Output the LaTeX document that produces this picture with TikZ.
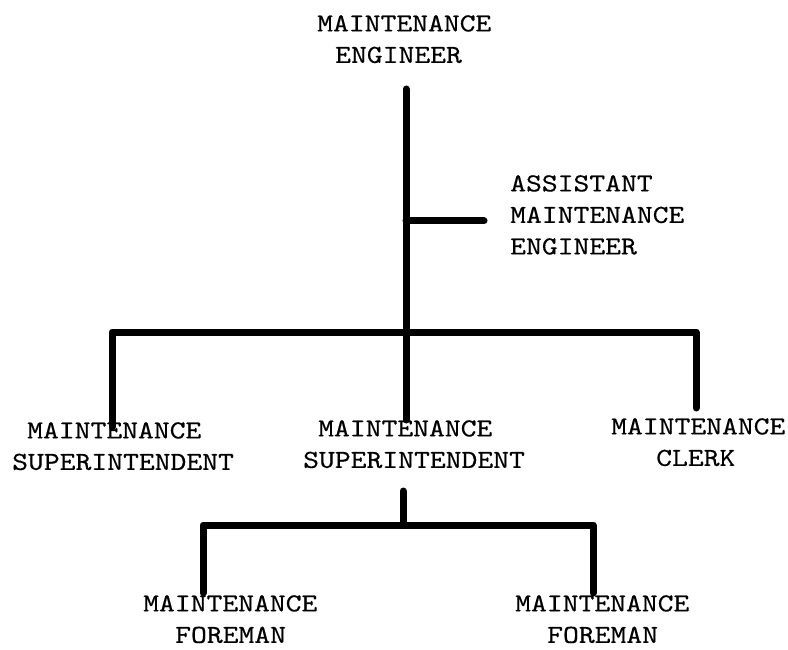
\documentclass[tikz,border=0pt]{standalone}
\usepackage{fontspec}
% typewriter face, widened a little to a typewriter pitch
\newfontfamily\typewriter{lmmono10-regular.otf}[FakeStretch=1.16,FakeBold=0.4]
\begin{document}
\begin{tikzpicture}[x=1pt,y=-1pt,
  title/.style={anchor=north west,inner sep=0pt,align=left,
    font=\typewriter\fontsize{26}{31.5}\selectfont},
  link/.style={line width=7pt,line cap=round,line join=round}]
\useasboundingbox[fill=white] (0,0) rectangle (788,650);

% position titles
\node[title] (eng)   at (317,15)  {MAINTENANCE\\\hspace*{18pt}ENGINEER};
\node[title] (asst)  at (510,175) {ASSISTANT\\MAINTENANCE\\ENGINEER};
\node[title] (supL)  at (12,422)  {\hspace*{15pt}MAINTENANCE\\SUPERINTENDENT};
\node[title] (supM)  at (303,420) {\hspace*{15pt}MAINTENANCE\\SUPERINTENDENT};
\node[title] (clerk) at (611,418) {MAINTENANCE\\\hspace*{45pt}CLERK};
\node[title] (forL)  at (143,595) {MAINTENANCE\\\hspace*{32pt}FOREMAN};
\node[title] (forR)  at (515,595) {MAINTENANCE\\\hspace*{32pt}FOREMAN};

% junction points of the lines
\coordinate (stem) at (406,89);
\coordinate (staff) at (484,221);
\coordinate (barL) at (112,332);
\coordinate (barR) at (696,332);
\coordinate (sub)  at (403,491);
\coordinate (lowL) at (203,525);
\coordinate (lowR) at (593,525);

% engineer down to the middle superintendent
\draw[link] (stem) -- (stem |- supM.north);
% staff branch to the assistant
\draw[link] (stem |- staff) -- (staff);
% first level bar
\draw[link] ([yshift=-5pt]barL |- supL.north) -- (barL) -- (barR)
  -- ([yshift=10pt]barR |- clerk.north);
% middle superintendent down to the foremen
\draw[link] (sub) -- (sub |- lowL);
\draw[link] ([yshift=2pt]lowL |- forL.north) -- (lowL) -- (lowR)
  -- ([yshift=2pt]lowR |- forR.north);
\end{tikzpicture}
\end{document}
